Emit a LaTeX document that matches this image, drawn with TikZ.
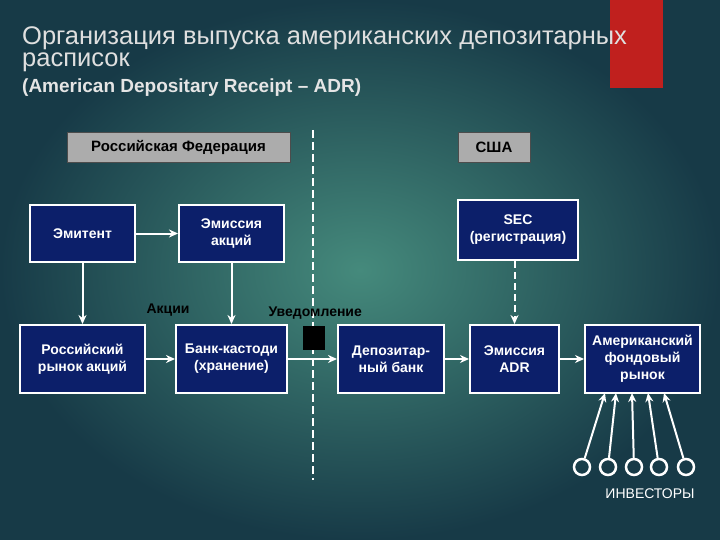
\documentclass[tikz,border=0pt]{standalone}
\usepackage{fontspec}
\setmainfont{Liberation Sans}
\usetikzlibrary{arrows.meta}
\definecolor{bgin}{HTML}{458A7C}
\definecolor{bgout}{HTML}{173A47}
\definecolor{boxb}{HTML}{0C1F6A}
\definecolor{redb}{HTML}{C0201E}
\begin{document}
\begin{tikzpicture}[x=1pt,y=-1pt,
 bx/.style={draw=white,line width=2pt,fill=boxb,text=white,font=\bfseries\fontsize{14}{17}\selectfont,align=center,inner sep=0pt},
 gb/.style={draw=gray!60!black,fill=gray!65,text=black,font=\bfseries\fontsize{15}{17}\selectfont,inner sep=0pt},
 ar/.style={draw=white,line width=2pt,-{Stealth[length=9pt,width=8pt]}},
 lb/.style={text=black,font=\bfseries\fontsize{14}{16}\selectfont}]
\useasboundingbox (0,0) rectangle (720,540);
\shade[inner color=bgin,outer color=bgout] (0,0) rectangle (720,540);
\fill[redb] (610,0) rectangle (663,88);
\node[anchor=west,text=gray!25,font=\fontsize{25.5}{27}\selectfont,inner sep=0pt] (t1) at (22,38) {Организация выпуска американских депозитарных};
\node[anchor=west,text=gray!25,font=\fontsize{25.5}{27}\selectfont,inner sep=0pt] (t2) at (22,62) {расписок};
\node[anchor=west,text=gray!20,font=\bfseries\fontsize{19}{21}\selectfont,inner sep=0pt] (t3) at (22,88) {(American Depositary Receipt – ADR)};
\node[gb,minimum width=223,minimum height=30] (rf) at (178.5,147) {Российская Федерация};
\node[gb,minimum width=72,minimum height=30] (us) at (494,147) {США};
\coordinate (d1) at (313,130); \coordinate (d2) at (313,480);
\draw[white,line width=2pt,dash pattern=on 8pt off 4pt] (d1) -- (d2);
\node[bx,minimum width=105,minimum height=57] (em) at (82.5,233.5) {Эмитент};
\node[bx,minimum width=105,minimum height=57] (ea) at (231.5,233.5) {Эмиссия\\акций};
\node[bx,minimum width=120,minimum height=60] (sec) at (518,230) {SEC\\(регистрация)};
\node[bx,minimum width=125,minimum height=68] (rr) at (82.5,359) {Российский\\рынок акций};
\node[bx,minimum width=111,minimum height=68] (bk) at (231.5,359) {Банк-кастоди\\(хранение)};
\node[bx,minimum width=106,minimum height=68] (db) at (391,359) {Депозитар-\\ный банк};
\node[bx,minimum width=89,minimum height=68] (adr) at (514.5,359) {Эмиссия\\ADR};
\node[bx,minimum width=115,minimum height=68] (am) at (642.5,359) {Американский\\фондовый\\рынок};
\fill[black] (303,326) rectangle (325,350);
\node[lb] (ak) at (168,310) {Акции};
\node[lb,anchor=west] (uv) at (265,313) {Уведомление};
\draw[ar] (em) -- (ea);
\draw[ar] (em) -- (rr.north -| em);
\draw[ar] (ea) -- (bk);
\draw[ar] (rr) -- (bk);
\draw[ar] (bk) -- (db);
\draw[ar] (db) -- (adr);
\draw[ar] (adr) -- (am);
\draw[ar,dash pattern=on 7pt off 4pt] (sec.south -| adr) -- (adr);
\foreach \i/\x/\t in {1/582/605,2/608/616,3/634/632,4/659/648,5/686/664}{
  \node[circle,draw=white,line width=2.5pt,minimum size=16,inner sep=0pt] (c\i) at (\x,467) {};
  \coordinate (e\i) at (\t,393);
  \draw[ar] (c\i) -- (e\i);
}
\node[text=white,font=\fontsize{14}{16}\selectfont] (inv) at (650,494) {ИНВЕСТОРЫ};
\end{tikzpicture}
\end{document}
